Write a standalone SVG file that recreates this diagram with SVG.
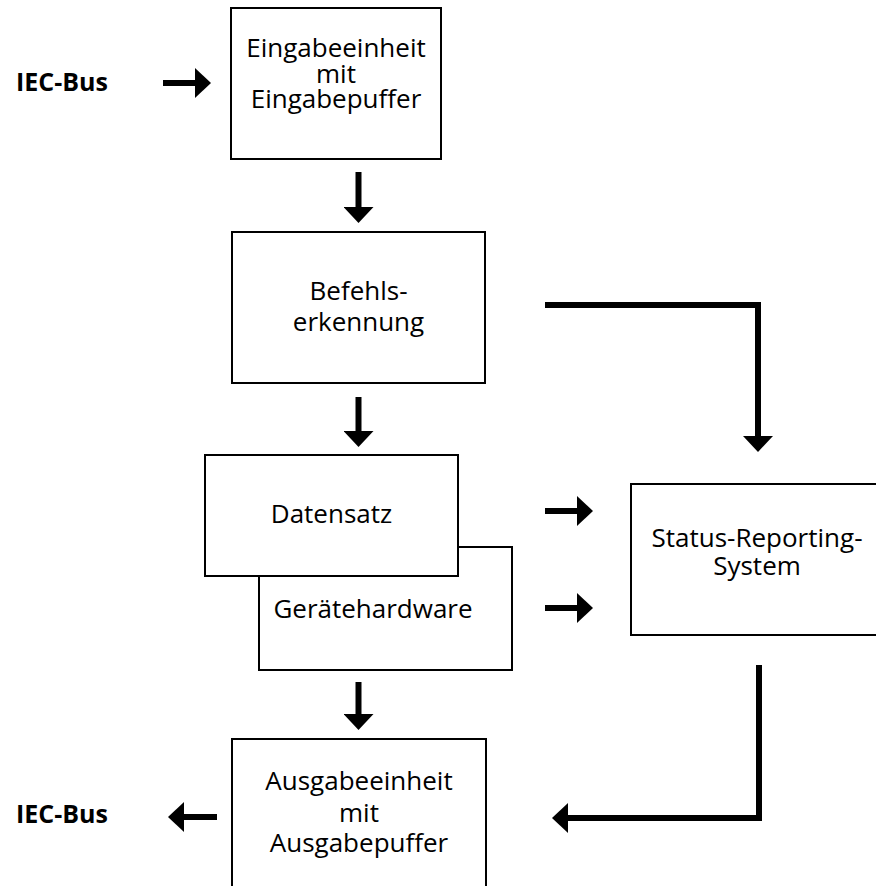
<svg xmlns="http://www.w3.org/2000/svg" width="876" height="886" viewBox="0 0 876 886">
<style>
.box{fill:#fff;stroke:#000;stroke-width:2}
.t{font-family:"Open Sans","Noto Sans",sans-serif;font-size:26px;fill:#000;text-anchor:middle}
.b{font-family:"Open Sans","Noto Sans",sans-serif;font-size:25px;font-weight:bold;fill:#000}
.c{fill:none;stroke:#000;stroke-width:6;stroke-linejoin:miter;marker-end:url(#ah)}
</style>
<defs>
<marker id="ah" markerUnits="userSpaceOnUse" viewBox="0 0 16 30" markerWidth="16" markerHeight="30" refX="1" refY="15" orient="auto">
<path d="M0,0 L16,15 L0,30 Z" fill="#000"/>
</marker>
</defs>
<rect width="876" height="886" fill="#fff"/>
<g id="iec-in"><text class="b" x="16" y="91">IEC-Bus</text></g>
<g id="eingabe">
<rect class="box" x="231" y="8" width="210" height="151"/>
<text class="t" x="336" y="57">Eingabeeinheit</text>
<text class="t" x="336" y="83">mit</text>
<text class="t" x="336" y="108">Eingabepuffer</text>
</g>
<g id="befehl">
<rect class="box" x="232" y="232" width="253" height="151"/>
<text class="t" x="358.5" y="300">Befehls-</text>
<text class="t" x="358.5" y="331">erkennung</text>
</g>
<g id="hardware">
<rect class="box" x="259" y="547" width="253" height="123"/>
<text class="t" x="373" y="618">Gerätehardware</text>
</g>
<g id="datensatz">
<rect class="box" x="205" y="455" width="253" height="121"/>
<text class="t" x="331.5" y="523">Datensatz</text>
</g>
<g id="status">
<rect class="box" x="631" y="484" width="260" height="151"/>
<text class="t" x="757" y="547">Status-Reporting-</text>
<text class="t" x="757" y="575">System</text>
</g>
<g id="ausgabe">
<rect class="box" x="232" y="739" width="254" height="155"/>
<text class="t" x="359" y="790">Ausgabeeinheit</text>
<text class="t" x="359" y="822">mit</text>
<text class="t" x="359" y="852">Ausgabepuffer</text>
</g>
<g id="iec-out"><text class="b" x="16" y="823">IEC-Bus</text></g>
<g id="connectors">
<path class="c" d="M163,83 H196"/>
<path class="c" d="M358.5,172 V208"/>
<path class="c" d="M358.5,397 V432"/>
<path class="c" d="M545,305 H758 V437"/>
<path class="c" d="M545,511 H578"/>
<path class="c" d="M545,608 H578"/>
<path class="c" d="M358.5,682 V715"/>
<path class="c" d="M759,665 V818 H567"/>
<path class="c" d="M217,817 H183"/>
</g>
</svg>
